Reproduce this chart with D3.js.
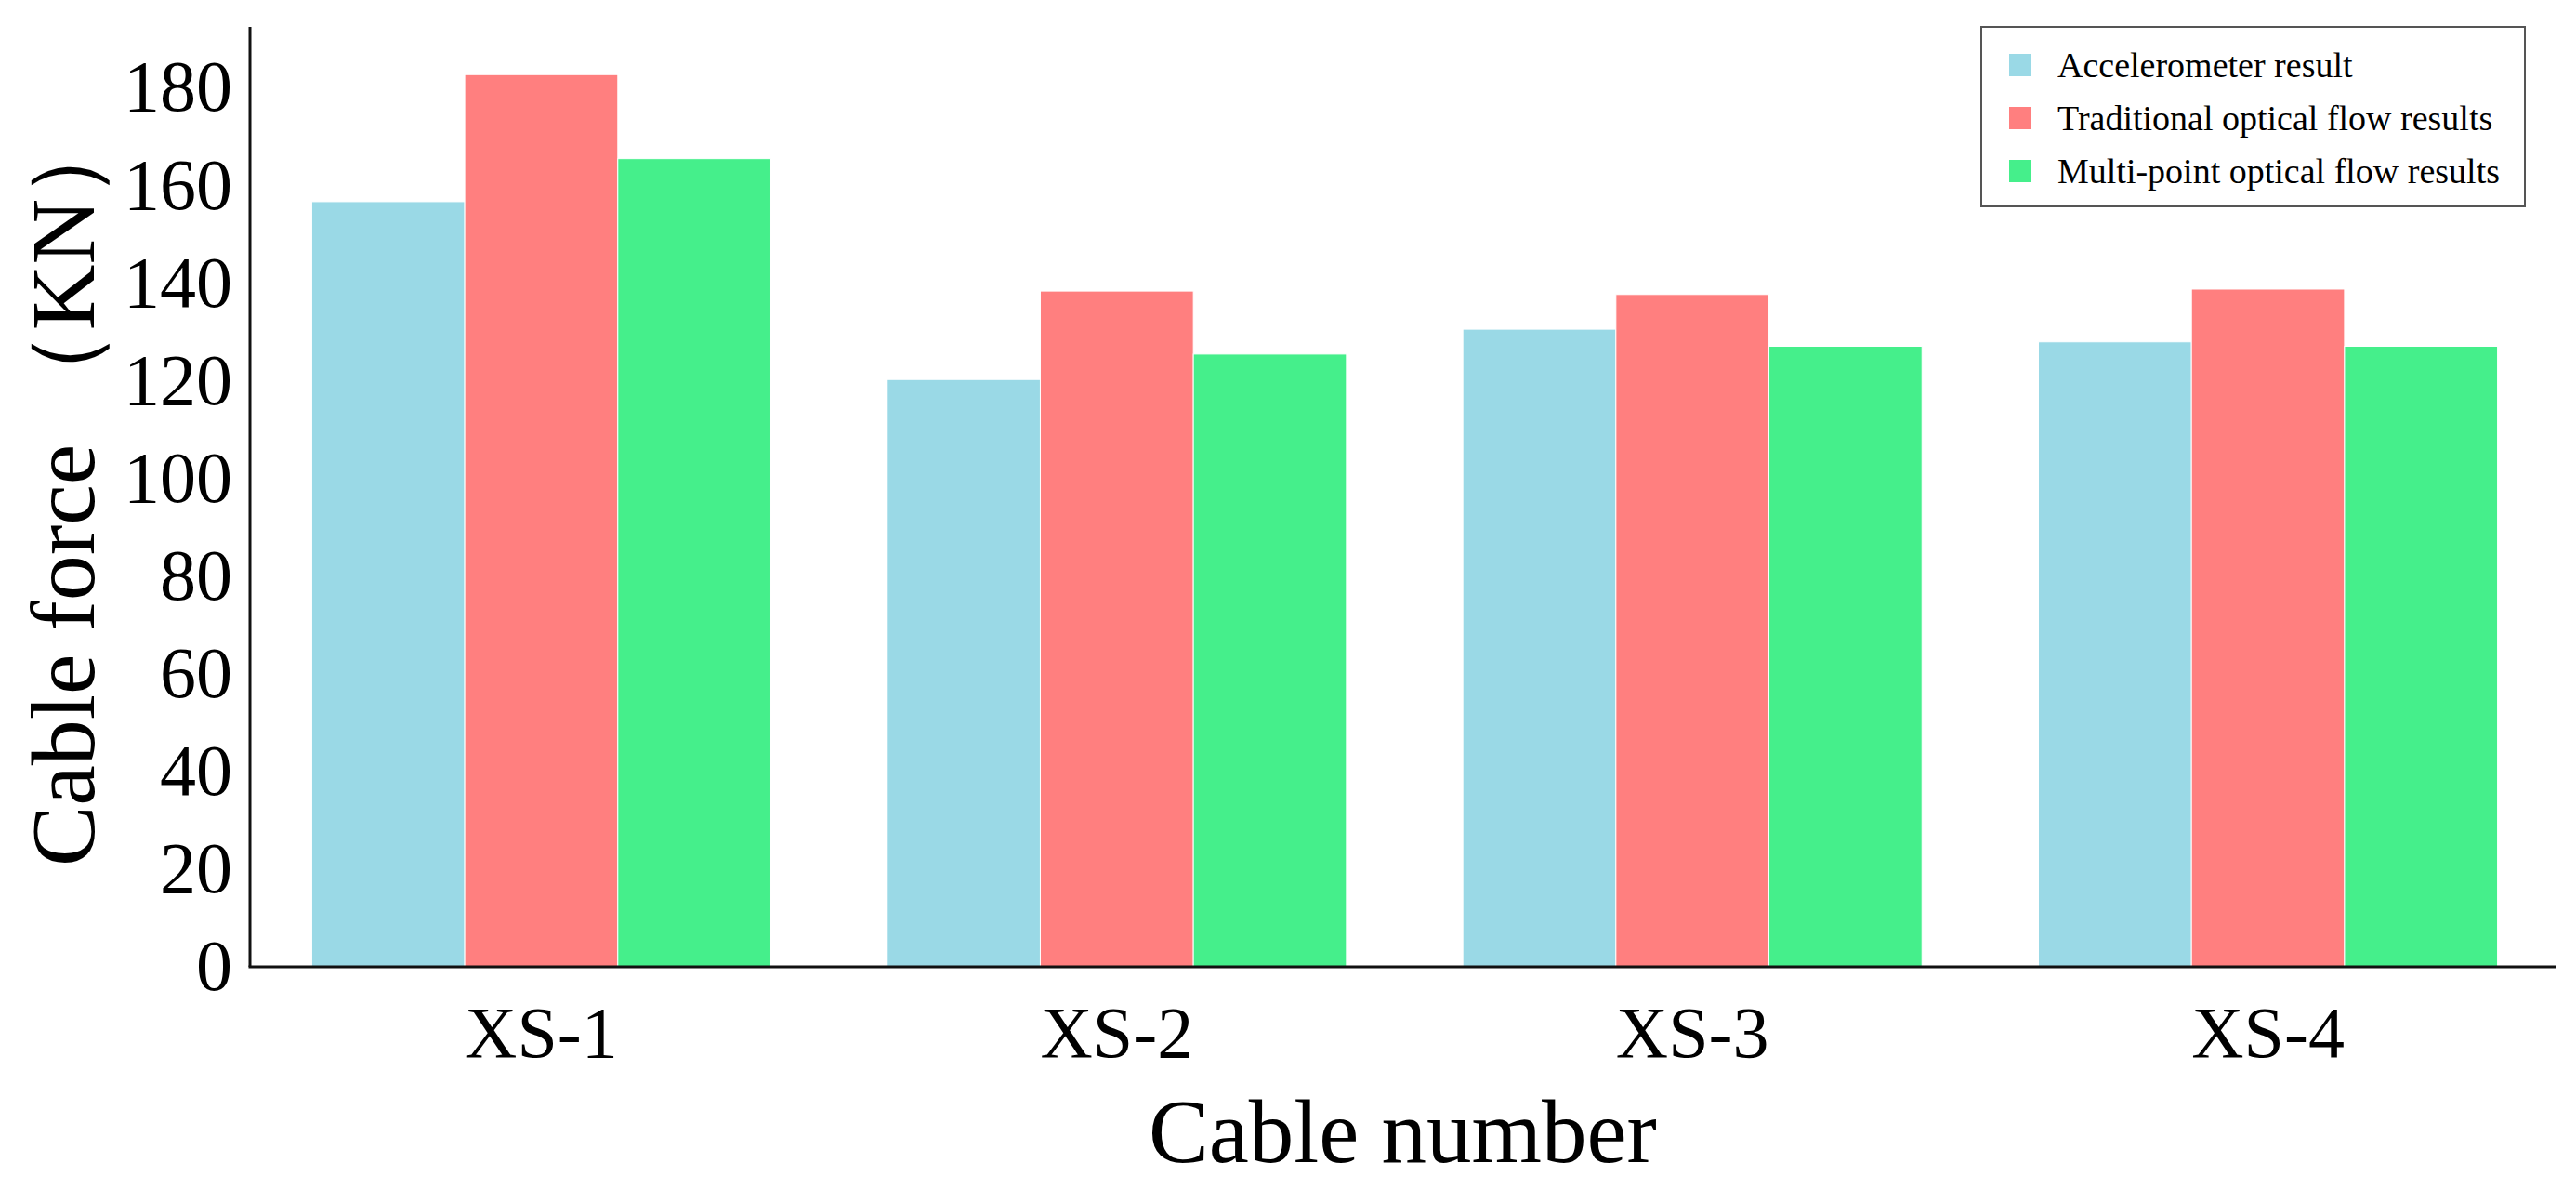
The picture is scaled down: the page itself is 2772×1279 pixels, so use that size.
<!DOCTYPE html>
<html>
<head>
<meta charset="utf-8">
<script src="https://cdn.jsdelivr.net/npm/d3@7"></script>
<style>
	body { margin: 0; background: #fff; }
	svg text { font-family: "Liberation Serif", "Times New Roman", serif; fill: #000; }
</style>
</head>
<body>
<div id="chart"></div>
<script>
// data
var cables = ["XS-1", "XS-2", "XS-3", "XS-4"];
var seriesNames = ["Accelerometer result", "Traditional optical flow results", "Multi-point optical flow results"];
var accelerometer = [156.6, 120.2, 130.5, 127.9];
var traditional = [182.6, 138.3, 137.6, 138.7];
var multipoint = [165.4, 125.4, 127.0, 127.0];
var colors = ["#9ad9e6", "#ff7f7f", "#45ef8b"];
var yTicks = [0, 20, 40, 60, 80, 100, 120, 140, 160, 180];

var width = 2772, height = 1279;
// plot box (note: "top" is taken by window.top, so prefix these)
var plotLeft = 269, plotRight = 2750, plotTop = 29, plotBottom = 1040;

var svg = d3.select("#chart").append("svg")
	.attr("width", width)
	.attr("height", height);

var x0 = d3.scaleBand()
	.domain(cables)
	.range([plotLeft + 2, plotRight + 2])
	.paddingInner(0.2023)
	.paddingOuter(0.104);

var x1 = d3.scaleBand()
	.domain(seriesNames)
	.range([0, x0.bandwidth()]);

var y = d3.scaleLinear()
	.domain([0, (plotBottom - plotTop) / 5.256])
	.range([plotBottom, plotTop]);

var rows = cables.map(function(c, i){
	return {cable: c, vals: [accelerometer[i], traditional[i], multipoint[i]]};
});

// bars
var groups = svg.append("g").selectAll("g")
	.data(rows)
	.enter().append("g")
	.attr("transform", function(d){ return "translate(" + x0(d.cable) + ",0)"; });

groups.selectAll("rect")
	.data(function(d){ return d.vals.map(function(v, j){ return {name: seriesNames[j], v: v, j: j}; }); })
	.enter().append("rect")
	.attr("x", function(d){ return x1(d.name); })
	.attr("y", function(d){ return y(d.v); })
	.attr("width", x1.bandwidth())
	.attr("height", function(d){ return y(0) - y(d.v); })
	.attr("fill", function(d){ return colors[d.j]; })
	.attr("stroke", "#fff")
	.attr("stroke-width", 1);

// axes
var yAxis = d3.axisLeft(y)
	.tickValues(yTicks)
	.tickSize(0)
	.tickPadding(19);

var gy = svg.append("g")
	.attr("transform", "translate(" + plotLeft + ",0)")
	.call(yAxis);
gy.select(".domain").remove();
gy.selectAll("text").style("font-size", "78px");

var xAxis = d3.axisBottom(x0)
	.tickSize(0)
	.tickPadding(42);

var gx = svg.append("g")
	.attr("transform", "translate(0," + plotBottom + ")")
	.call(xAxis);
gx.select(".domain").remove();
gx.selectAll("text").style("font-size", "78px");

// spines
svg.append("line")
	.attr("x1", plotLeft).attr("x2", plotLeft)
	.attr("y1", plotTop).attr("y2", plotBottom)
	.attr("stroke", "#111").attr("stroke-width", 3);
svg.append("line")
	.attr("x1", plotLeft - 1.5).attr("x2", plotRight)
	.attr("y1", plotBottom).attr("y2", plotBottom)
	.attr("stroke", "#111").attr("stroke-width", 3);

// axis titles
svg.append("text")
	.attr("x", (plotLeft + plotRight) / 2)
	.attr("y", 1250)
	.attr("text-anchor", "middle")
	.style("font-size", "97px")
	.text("Cable number");

svg.append("text")
	.attr("transform", "translate(101,932)rotate(-90)")
	.attr("text-anchor", "start")
	.style("font-size", "98px")
	.text("Cable force （KN）");

// legend
var legend = svg.append("g");
legend.append("rect")
	.attr("x", 2132).attr("y", 29)
	.attr("width", 585).attr("height", 193)
	.attr("fill", "#fff")
	.attr("stroke", "#555")
	.attr("stroke-width", 2);

var items = legend.selectAll("g.item")
	.data(seriesNames)
	.enter().append("g")
	.attr("class", "item")
	.attr("transform", function(d, i){ return "translate(2162," + (58 + i * 57) + ")"; });

items.append("rect")
	.attr("width", 23).attr("height", 24)
	.attr("fill", function(d, i){ return colors[i]; });

items.append("text")
	.attr("x", 52)
	.attr("y", 25)
	.style("font-size", "38px")
	.text(function(d){ return d; });
</script>
</body>
</html>
